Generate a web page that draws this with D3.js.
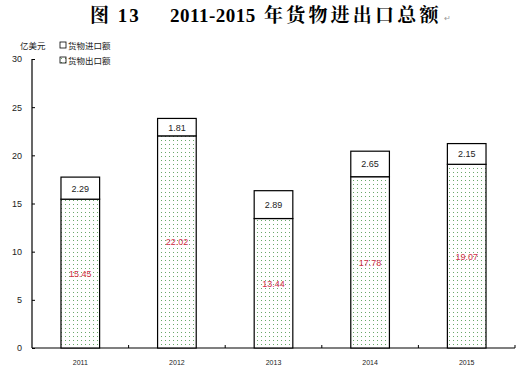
<!DOCTYPE html>
<html>
<head>
<meta charset="utf-8">
<script src="https://cdn.jsdelivr.net/npm/d3@7"></script>
<style>
  body { margin: 0; background: #fff; }
  svg text { font-family: "Liberation Sans", Arial, sans-serif; }
</style>
</head>
<body>
<div id="chart"></div>
<script>
// data
var years = ["2011", "2012", "2013", "2014", "2015"];
var exportVals = [15.45, 22.02, 13.44, 17.78, 19.07];   // 货物出口额
var importVals = [2.29, 1.81, 2.89, 2.65, 2.15];        // 货物进口额
var yTicks = [0, 5, 10, 15, 20, 25, 30];

var W = 522, H = 378;
var margin = {top: 59, right: 7, bottom: 30, left: 32};
var width = W - margin.left - margin.right,
    height = H - margin.top - margin.bottom;

var svg = d3.select("#chart")
  .append("svg")
    .attr("width", W)
    .attr("height", H);

// dotted fill for export bars
var defs = svg.append("defs");
var pat = defs.append("pattern")
    .attr("id", "dots")
    .attr("patternUnits", "userSpaceOnUse")
    .attr("width", 4)
    .attr("height", 4);
pat.append("rect").attr("width", 4).attr("height", 4).attr("fill", "#fff");
pat.append("rect").attr("x", 1).attr("y", 1).attr("width", 1).attr("height", 1).attr("fill", "#6aa86a");

// title, in three pieces to match the spacing
var serif = "'Liberation Serif', 'Noto Serif CJK SC', 'Noto Sans CJK SC', serif";
var titleParts = [
  {t: "图 13", x: 90, ls: 2},
  {t: "2011-2015", x: 170, ls: 0.5},
  {t: "年货物进出口总额", x: 264, ls: 3.2}
];
svg.selectAll(".title")
  .data(titleParts)
  .enter().append("text")
    .attr("x", function(d) { return d.x; })
    .attr("y", 22)
    .style("font-family", serif)
    .style("letter-spacing", function(d) { return d.ls + "px"; })
    .attr("font-size", 19)
    .attr("font-weight", "bold")
    .attr("fill", "#000")
    .text(function(d) { return d.t; });
svg.append("text")
    .attr("x", 444)
    .attr("y", 21)
    .attr("font-size", 8)
    .attr("fill", "#999")
    .text("↵");

var g = svg.append("g")
    .attr("transform", "translate(" + margin.left + "," + margin.top + ")");

var x = d3.scaleBand()
  .domain(years)
  .range([0, width])
  .paddingInner(0.6)
  .paddingOuter(0.3);

var y = d3.scaleLinear()
  .domain([0, 30])
  .range([height, 0]);

// y axis, ticks pointing inward
var yAxis = g.append("g")
  .call(d3.axisRight(y).tickValues(yTicks).tickSize(3));
yAxis.select(".domain").attr("stroke", "#000").attr("stroke-width", 1.2).attr("d", "M0,0V" + height);
yAxis.selectAll("text")
    .attr("x", -10)
    .attr("text-anchor", "end")
    .attr("font-size", 9)
    .attr("fill", "#222");

// x axis: boundary ticks between categories
var bounds = d3.range(1, years.length + 1).map(function(i) { return i * width / years.length; });
var xAxis = g.append("g")
  .attr("transform", "translate(0," + height + ")");
xAxis.append("line")
    .attr("x1", 0).attr("x2", width)
    .attr("stroke", "#000").attr("stroke-width", 1.2);
xAxis.selectAll(".tk")
  .data(bounds)
  .enter().append("line")
    .attr("x1", function(d) { return d; })
    .attr("x2", function(d) { return d; })
    .attr("y1", 0).attr("y2", -3)
    .attr("stroke", "#000");
xAxis.selectAll(".lbl")
  .data(years)
  .enter().append("text")
    .attr("x", function(d) { return x(d) + x.bandwidth() / 2; })
    .attr("y", 17)
    .attr("text-anchor", "middle")
    .attr("font-size", 7)
    .attr("fill", "#222")
    .text(function(d) { return d; });

// export bars (bottom)
g.selectAll(".exp")
  .data(years)
  .enter().append("rect")
    .attr("x", function(d) { return x(d); })
    .attr("y", function(d, i) { return y(exportVals[i]); })
    .attr("width", x.bandwidth())
    .attr("height", function(d, i) { return height - y(exportVals[i]); })
    .attr("fill", "url(#dots)")
    .attr("stroke", "#000")
    .attr("stroke-width", 1.2);

// import bars (stacked on top)
g.selectAll(".imp")
  .data(years)
  .enter().append("rect")
    .attr("x", function(d) { return x(d); })
    .attr("y", function(d, i) { return y(exportVals[i] + importVals[i]); })
    .attr("width", x.bandwidth())
    .attr("height", function(d, i) { return y(exportVals[i]) - y(exportVals[i] + importVals[i]); })
    .attr("fill", "#fff")
    .attr("stroke", "#000")
    .attr("stroke-width", 1.2);

// value labels
g.selectAll(".impLbl")
  .data(years)
  .enter().append("text")
    .attr("x", function(d) { return x(d) + x.bandwidth() / 2; })
    .attr("y", function(d, i) { return (y(exportVals[i]) + y(exportVals[i] + importVals[i])) / 2 + 3.5; })
    .attr("text-anchor", "middle")
    .attr("font-size", 9)
    .attr("fill", "#222")
    .text(function(d, i) { return importVals[i].toFixed(2); });

g.selectAll(".expLbl")
  .data(years)
  .enter().append("text")
    .attr("x", function(d) { return x(d) + x.bandwidth() / 2; })
    .attr("y", function(d, i) { return (y(exportVals[i]) + height) / 2 + 3.5; })
    .attr("text-anchor", "middle")
    .attr("font-size", 9)
    .attr("fill", "#d0304a")
    .text(function(d, i) { return exportVals[i].toFixed(2); });

// unit + legend
svg.append("text")
    .attr("x", 20).attr("y", 49)
    .attr("font-size", 8.5)
    .attr("fill", "#222")
    .style("font-family", "'Noto Sans CJK SC', sans-serif")
    .text("亿美元");

var legend = [
  {name: "货物进口额", fill: "#fff"},
  {name: "货物出口额", fill: "url(#dots)"}
];
var lg = svg.append("g").attr("transform", "translate(60,42)");
var items = lg.selectAll("g")
  .data(legend)
  .enter().append("g")
    .attr("transform", function(d, i) { return "translate(0," + (i * 15) + ")"; });
items.append("rect")
    .attr("width", 6).attr("height", 6)
    .attr("fill", function(d) { return d.fill; })
    .attr("stroke", "#000")
    .attr("stroke-width", 0.8);
items.append("text")
    .attr("x", 8).attr("y", 7)
    .attr("font-size", 8.5)
    .attr("fill", "#222")
    .style("font-family", "'Noto Sans CJK SC', sans-serif")
    .text(function(d) { return d.name; });
</script>
</body>
</html>
